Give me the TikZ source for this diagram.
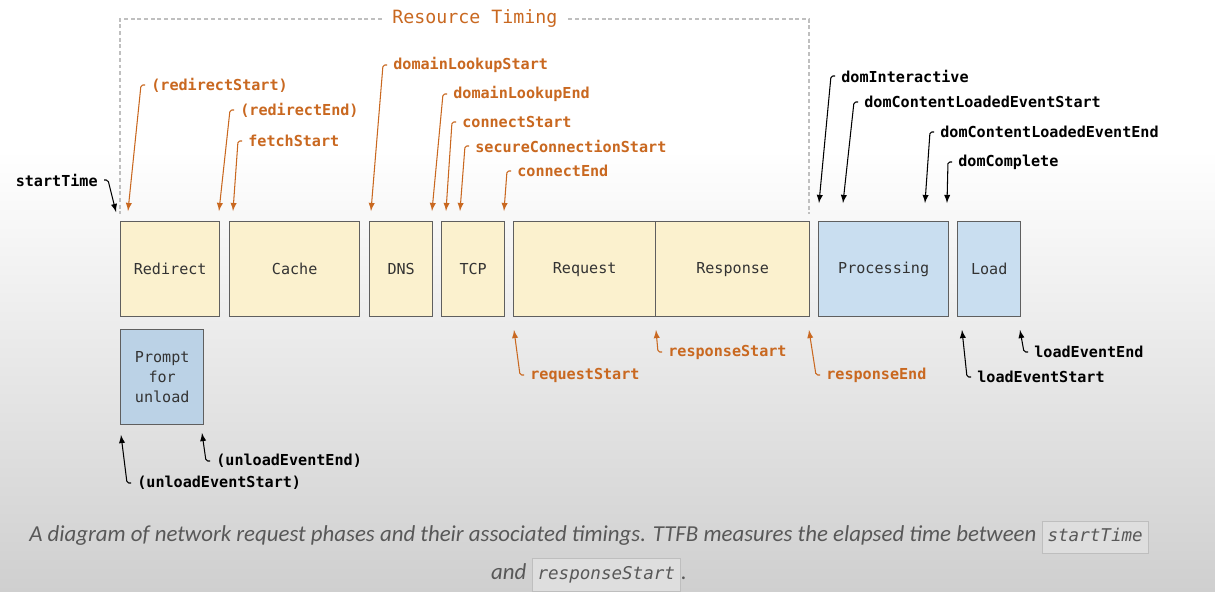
\documentclass[tikz,border=0pt]{standalone}
\usepackage{fontspec}
\setmonofont{DejaVu Sans Mono}
\newfontfamily\capfont{Carlito}
\usetikzlibrary{calc}
\definecolor{rtorange}{RGB}{201,104,32}
\definecolor{phaseyellow}{RGB}{251,241,206}
\definecolor{phaseblue}{RGB}{201,222,240}
\definecolor{promptblue}{RGB}{187,210,230}
\definecolor{boxline}{RGB}{95,95,95}
\definecolor{bgbottom}{RGB}{207,207,207}
\definecolor{captext}{RGB}{88,88,88}
\definecolor{codefill}{RGB}{222,222,222}
\definecolor{codeline}{RGB}{190,190,190}
\newcommand{\codebox}[1]{{\setlength{\fboxsep}{3pt}\fcolorbox{codeline}{codefill}{\ttfamily\itshape\fontsize{10}{12}\selectfont\strut #1}}}
\tikzset{
  phase/.style={draw=boxline, line width=0.8pt, anchor=north west, minimum height=1.9cm,
    inner sep=0pt, text=black!80, font=\ttfamily\fontsize{8.6}{11.3}\selectfont},
  tlabel/.style={anchor=west, inner xsep=3.4pt, inner ysep=0pt,
    font=\ttfamily\bfseries\fontsize{8.6}{10}\selectfont},
  otime/.style={tlabel, text=rtorange},
  btime/.style={tlabel, text=black},
  oarrow/.style={draw=rtorange, line width=0.6pt, rounded corners=1pt, -latex},
  barrow/.style={draw=black, line width=0.6pt, rounded corners=1pt, -latex},
  rtframe/.style={draw=gray!50, line width=0.6pt, dash pattern=on 2.2pt off 1.6pt}
}
\begin{document}
\begin{tikzpicture}[x=0.02cm, y=-0.02cm]
    \useasboundingbox (0,0) rectangle (1215,592);
    \fill[white] (0,0) rectangle (1215,150);
    \shade[top color=white, bottom color=bgbottom] (0,150) rectangle (1215,592);
    % arrow tips at the phase boxes
    \coordinate (t-st) at (116,212);
    \coordinate (t-rs) at (128,211);
    \coordinate (t-re) at (219,211);
    \coordinate (t-fs) at (233,211);
    \coordinate (t-dls) at (371,211);
    \coordinate (t-dle) at (432,211);
    \coordinate (t-cs) at (446,211);
    \coordinate (t-scs) at (460,211);
    \coordinate (t-ce) at (504,211);
    \coordinate (t-di) at (819,203);
    \coordinate (t-dcls) at (843,203);
    \coordinate (t-dcle) at (925,203);
    \coordinate (t-dc) at (947,203);
    \coordinate (t-rqs) at (514,330);
    \coordinate (t-rps) at (656,330);
    \coordinate (t-rpe) at (809,330);
    \coordinate (t-les) at (962,330);
    \coordinate (t-lee) at (1020,330);
    \coordinate (t-ues) at (121,435);
    \coordinate (t-uee) at (202,433);
    % resource timing frame
    \node[font=\ttfamily\fontsize{10.4}{12}\selectfont, text=rtorange, inner xsep=6pt] (rt) at (475,19) {Resource Timing};
    \draw[rtframe] (rt.west) -| (120,214);
    \draw[rtframe] (rt.east) -| (809,214);
    % phases
    \node[phase, fill=phaseyellow, minimum width=1.98cm] (redirect) at (120,221) {Redirect};
    \node[phase, fill=phaseyellow, minimum width=2.60cm] (cache) at (229,221) {Cache};
    \node[phase, fill=phaseyellow, minimum width=1.26cm] (dns) at (369,221) {DNS};
    \node[phase, fill=phaseyellow, minimum width=1.26cm] (tcp) at (441,221) {TCP};
    \node[phase, fill=phaseyellow, minimum width=2.84cm] (request) at (513,221) {Request};
    \node[phase, fill=phaseyellow, minimum width=3.08cm] (response) at (655,221) {Response};
    \node[phase, fill=phaseblue, minimum width=2.60cm] (processing) at (818,221) {Processing};
    \node[phase, fill=phaseblue, minimum width=1.26cm] (load) at (957,221) {Load};
    \node[phase, fill=promptblue, minimum width=1.66cm, align=center] (prompt) at (120,329) {Prompt\\for\\unload};
    % timings above
    \node[btime, anchor=east] (st) at (104,180) {startTime};
    \draw[barrow] (st.east) -- ++(4,0) -- (t-st);
    \node[otime] (rs) at (145,85) {(redirectStart)};
    \draw[oarrow] (rs.west) -- ++(-4,0) -- (t-rs);
    \node[otime] (re) at (234,110) {(redirectEnd)};
    \draw[oarrow] (re.west) -- ++(-4,0) -- (t-re);
    \node[otime] (fs) at (242,141) {fetchStart};
    \draw[oarrow] (fs.west) -- ++(-4,0) -- (t-fs);
    \node[otime] (dls) at (387,65) {domainLookupStart};
    \draw[oarrow] (dls.west) -- ++(-4,0) -- (t-dls);
    \node[otime] (dle) at (447,94) {domainLookupEnd};
    \draw[oarrow] (dle.west) -- ++(-4,0) -- (t-dle);
    \node[otime] (cs) at (456,122) {connectStart};
    \draw[oarrow] (cs.west) -- ++(-4,0) -- (t-cs);
    \node[otime] (scs) at (469,146) {secureConnectionStart};
    \draw[oarrow] (scs.west) -- ++(-4,0) -- (t-scs);
    \node[otime] (ce) at (511,171) {connectEnd};
    \draw[oarrow] (ce.west) -- ++(-4,0) -- (t-ce);
    \node[btime] (di) at (835,76) {domInteractive};
    \draw[barrow] (di.west) -- ++(-4,0) -- (t-di);
    \node[btime] (dcls) at (858,102) {domContentLoadedEventStart};
    \draw[barrow] (dcls.west) -- ++(-4,0) -- (t-dcls);
    \node[btime] (dcle) at (934,132) {domContentLoadedEventEnd};
    \draw[barrow] (dcle.west) -- ++(-4,0) -- (t-dcle);
    \node[btime] (dc) at (952,162) {domComplete};
    \draw[barrow] (dc.west) -- ++(-4,0) -- (t-dc);
    % timings below
    \node[otime] (rqs) at (524,375) {requestStart};
    \draw[oarrow] (rqs.west) -- ++(-4,0) -- (t-rqs);
    \node[otime] (rps) at (662,352) {responseStart};
    \draw[oarrow] (rps.west) -- ++(-4,0) -- (t-rps);
    \node[otime] (rpe) at (820,375) {responseEnd};
    \draw[oarrow] (rpe.west) -- ++(-4,0) -- (t-rpe);
    \node[btime] (les) at (971,377) {loadEventStart};
    \draw[barrow] (les.west) -- ++(-4,0) -- (t-les);
    \node[btime] (lee) at (1028,352) {loadEventEnd};
    \draw[barrow] (lee.west) -- ++(-4,0) -- (t-lee);
    \node[btime] (ues) at (131,483) {(unloadEventStart)};
    \draw[barrow] (ues.west) -- ++(-4,0) -- (t-ues);
    \node[btime] (uee) at (210,461) {(unloadEventEnd)};
    \draw[barrow] (uee.west) -- ++(-4,0) -- (t-uee);
    % caption
    \node[font=\capfont\itshape\fontsize{13}{21.6}\selectfont, text=captext, align=center] (caption) at (589,556)
      {A diagram of network request phases and their associated timings. TTFB measures the elapsed time between \codebox{startTime}\\
       and \codebox{responseStart}.};
\end{tikzpicture}
\end{document}
